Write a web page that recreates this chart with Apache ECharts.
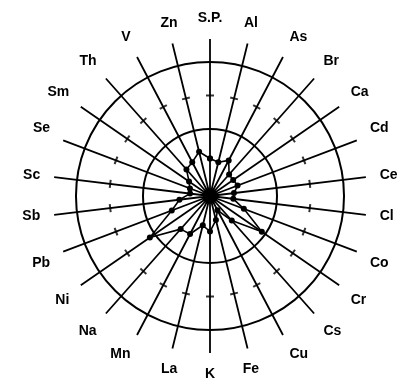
<!DOCTYPE html>
<html>
<head>
<meta charset="utf-8">
<script src="https://cdn.jsdelivr.net/npm/echarts@6/dist/echarts.min.js"></script>
<style>
  html, body { margin: 0; padding: 0; background: #fff; }
  #chart { width: 413px; height: 385px; }
</style>
</head>
<body>
<div id="chart"></div>
<script>
// Elements, clockwise from the top spoke
const elements = ['S.P.', 'Al', 'As', 'Br', 'Ca', 'Cd', 'Ce', 'Cl', 'Co', 'Cr', 'Cs', 'Cu', 'Fe',
  'K', 'La', 'Mn', 'Na', 'Ni', 'Pb', 'Sb', 'Sc', 'Se', 'Sm', 'Th', 'V', 'Zn'];

// Relative values (inner circle = 1, outer circle = 2)
const profile = [0.56, 0.52, 0.60, 0.43, 0.42, 0.44, 0.36, 0.35, 0.54, 0.94, 0.49, 0.24, 0.37,
  0.53, 0.45, 0.64, 0.66, 1.09, 0.61, 0.46, 0.30, 0.32, 0.38, 0.53, 0.57, 0.68];

// Reference circles and the scale mark on every spoke
const circleStep = 1;
const spokeMark = 1.5;
const spokeEnd = 2.343;

const chart = echarts.init(document.getElementById('chart'), null, { renderer: 'canvas' });

// One spoke per element, evenly spaced around the full turn
const step = 360 / elements.length;
const spokeAngle = i => i * step;
const nameAt = v => elements[Math.round(v / step) % elements.length];

const closedProfile = profile.map((v, i) => [v, spokeAngle(i)]).concat([[profile[0], spokeAngle(0)]]);
const marks = elements.map((e, i) => ({ value: [spokeMark, spokeAngle(i)], symbolRotate: -spokeAngle(i) }));

chart.setOption({
  animation: false,
  backgroundColor: '#fff',
  polar: { center: [210, 196], radius: 157 },
  angleAxis: {
    type: 'value',
    min: 0,
    max: 360,
    interval: step,
    startAngle: 90,
    clockwise: true,
    axisLine: { show: false },
    axisTick: { show: false },
    splitLine: { show: true, lineStyle: { color: '#000', width: 1.8 } },
    axisLabel: {
      margin: 14,
      color: '#000',
      fontFamily: 'Liberation Sans',
      fontWeight: 'bold',
      fontSize: 14,
      formatter: v => nameAt(v)
    }
  },
  radiusAxis: {
    type: 'value',
    min: 0,
    max: spokeEnd,
    interval: circleStep,
    axisLine: { show: false },
    axisTick: { show: false },
    axisLabel: { show: false },
    splitLine: {
      show: true,
      // circles at 0, 1, 2; none at the spoke ends
      lineStyle: { color: ['#000', '#000', '#000', 'rgba(0,0,0,0)'], width: 2 }
    }
  },
  series: [
    {
      type: 'scatter',
      coordinateSystem: 'polar',
      symbol: 'rect',
      symbolSize: [8, 2],
      itemStyle: { color: '#000' },
      data: marks,
      silent: true
    },
    {
      type: 'line',
      coordinateSystem: 'polar',
      data: closedProfile,
      symbol: 'circle',
      symbolSize: 6,
      showSymbol: true,
      lineStyle: { color: '#000', width: 1.6 },
      itemStyle: { color: '#000' },
      silent: true
    },
    {
      type: 'scatter',
      coordinateSystem: 'polar',
      symbol: 'circle',
      symbolSize: 12,
      itemStyle: { color: '#000' },
      data: [[0, 0]],
      silent: true
    }
  ]
});
</script>
</body>
</html>
